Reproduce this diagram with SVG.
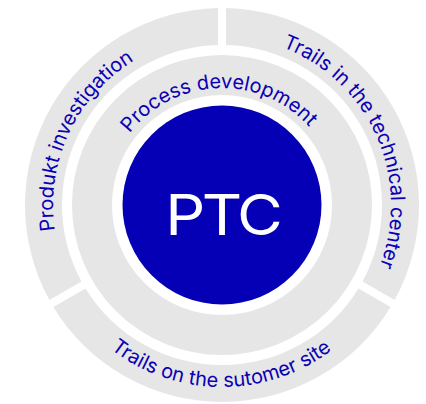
<svg xmlns="http://www.w3.org/2000/svg" width="426" height="404" viewBox="0 0 426 404">
  <style>
    .seg { fill: #e6e6e6; }
    .lbl { font-family: Inter, "Liberation Sans", sans-serif; font-size: 20px; fill: #0a00b4; }
    .core { fill: #0500b5; }
    .ptc { font-family: Inter, "Liberation Sans", sans-serif; font-size: 56px; fill: #ffffff; }
  </style>
  <defs>
    <path id="arcProcess" d="M106.14,188.72 A117,117 0 0 1 336.44,180.67"/>
    <path id="arcProdukt" d="M125.07,343.44 A169,169 0 0 1 265.74,41.76"/>
    <path id="arcTech" d="M181.12,41.02 A169,169 0 0 1 316.50,345.11"/>
    <path id="arcSite" d="M42.60,235.67 A182,182 0 0 0 401.07,237.54"/>
  </defs>
  <rect width="426" height="404" fill="#ffffff"/>
  <g id="connectors"></g>
  <g id="produkt-investigation">
    <path class="seg" d="M49.43,300.02 A197,197 0 0 1 218,8.04 L218,45.05 A160,160 0 0 0 81.48,281.51 Z"/>
    <text class="lbl"><textPath href="#arcProdukt" startOffset="50%" text-anchor="middle">Produkt investigation</textPath></text>
  </g>
  <g id="technical-center">
    <path class="seg" d="M226,8.04 A197,197 0 0 1 394.57,300.02 L362.52,281.51 A160,160 0 0 0 226,45.05 Z"/>
    <text class="lbl"><textPath href="#arcTech" startOffset="50%" text-anchor="middle">Trails in the technical center</textPath></text>
  </g>
  <g id="customer-site">
    <path class="seg" d="M390.57,306.94 A197,197 0 0 1 53.43,306.94 L85.48,288.44 A160,160 0 0 0 358.52,288.44 Z"/>
    <text class="lbl"><textPath href="#arcSite" startOffset="50%" text-anchor="middle">Trails on the sutomer site</textPath></text>
  </g>
  <g id="process-development">
    <circle cx="222" cy="205" r="130" fill="none" stroke="#e6e6e6" stroke-width="40"/>
    <text class="lbl"><textPath href="#arcProcess" startOffset="50%" text-anchor="middle">Process development</textPath></text>
  </g>
  <g id="ptc">
    <circle class="core" cx="222" cy="205" r="99.5"/>
    <text class="ptc" x="200" y="235" transform="scale(1.12,1)" text-anchor="middle" textLength="105" lengthAdjust="spacing">PTC</text>
  </g>
</svg>
